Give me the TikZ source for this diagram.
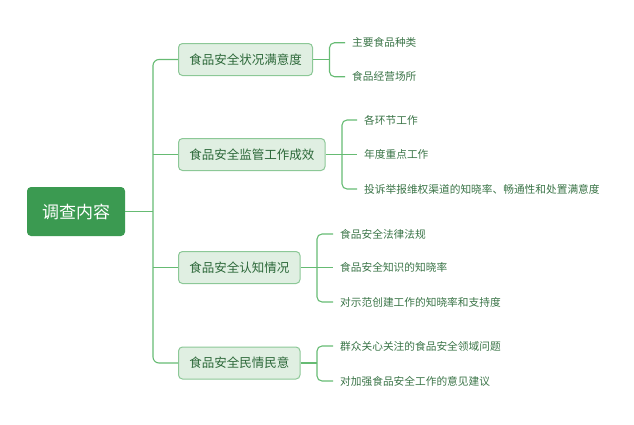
\documentclass[tikz,border=0pt]{standalone}
\usepackage{fontspec}
\newfontfamily\cjk{Noto Sans CJK SC}
\definecolor{rootfill}{HTML}{3B9A51}
\definecolor{boxfill}{HTML}{E0EFE2}
\definecolor{boxdraw}{HTML}{8CC897}
\definecolor{linec}{HTML}{66BB73}
\definecolor{txtA}{HTML}{2C6839}
\definecolor{txtB}{HTML}{3A7447}
\tikzset{
  rootbox/.style={fill=rootfill, text=white, rounded corners=4pt, minimum width=98pt, minimum height=49pt, inner sep=0pt, font=\cjk\fontsize{17}{20}\selectfont},
  topicbox/.style={anchor=west, fill=boxfill, draw=boxdraw, line width=1pt, rounded corners=4pt, text=txtA, inner xsep=10.75pt, inner ysep=0pt, minimum height=32pt, font=\cjk\fontsize{12.5}{15}\selectfont},
  leaf/.style={anchor=west, inner xsep=7pt, inner ysep=1pt, text=txtB, font=\cjk\fontsize{10.7}{13}\selectfont},
  conn/.style={draw=linec, line width=1.1pt},
}
\begin{document}
\begin{tikzpicture}[x=1pt,y=-1pt]
\useasboundingbox (0,0) rectangle (634,424);
\node[rootbox] (root) at (76,211.5) {调查内容};
\node[topicbox] (b1) at (178,59.5) {食品安全状况满意度};
\node[topicbox] (b2) at (178,154.5) {食品安全监管工作成效};
\node[topicbox] (b3) at (178,267.5) {食品安全认知情况};
\node[topicbox] (b4) at (178,363) {食品安全民情民意};
\coordinate (tr) at (153,211.5);
\draw[conn] (root.east) -- (tr);
\draw[conn, rounded corners=6pt] (b1.west) -| (tr) |- (b4.west);
\draw[conn] (b2.west) -- (tr |- b2.west);
\draw[conn] (b3.west) -- (tr |- b3.west);
% leaves of b1
\node[leaf] (l11) at (345,42.7) {主要食品种类};
\node[leaf] (l12) at (345,76.7) {食品经营场所};
\coordinate (c1) at (329.5,59.5);
\draw[conn] (b1.east) -- (c1);
\draw[conn, rounded corners=5pt] (l11.west) -| (c1) |- (l12.west);
% leaves of b2
\node[leaf] (l21) at (357,120) {各环节工作};
\node[leaf] (l22) at (357,154.5) {年度重点工作};
\node[leaf] (l23) at (357,189) {投诉举报维权渠道的知晓率、畅通性和处置满意度};
\coordinate (c2) at (342,154.5);
\draw[conn] (b2.east) -- (l22.west);
\draw[conn, rounded corners=5pt] (l21.west) -| (c2) |- (l23.west);
% leaves of b3
\node[leaf] (l31) at (333,234) {食品安全法律法规};
\node[leaf] (l32) at (333,267.5) {食品安全知识的知晓率};
\node[leaf] (l33) at (333,302) {对示范创建工作的知晓率和支持度};
\coordinate (c3) at (317,267.5);
\draw[conn] (b3.east) -- (l32.west);
\draw[conn, rounded corners=5pt] (l31.west) -| (c3) |- (l33.west);
% leaves of b4
\node[leaf] (l41) at (333,346) {群众关心关注的食品安全领域问题};
\node[leaf] (l42) at (333,381) {对加强食品安全工作的意见建议};
\coordinate (c4) at (317,363);
\draw[conn] (b4.east) -- (c4);
\draw[conn, rounded corners=5pt] (l41.west) -| (c4) |- (l42.west);
\end{tikzpicture}
\end{document}
